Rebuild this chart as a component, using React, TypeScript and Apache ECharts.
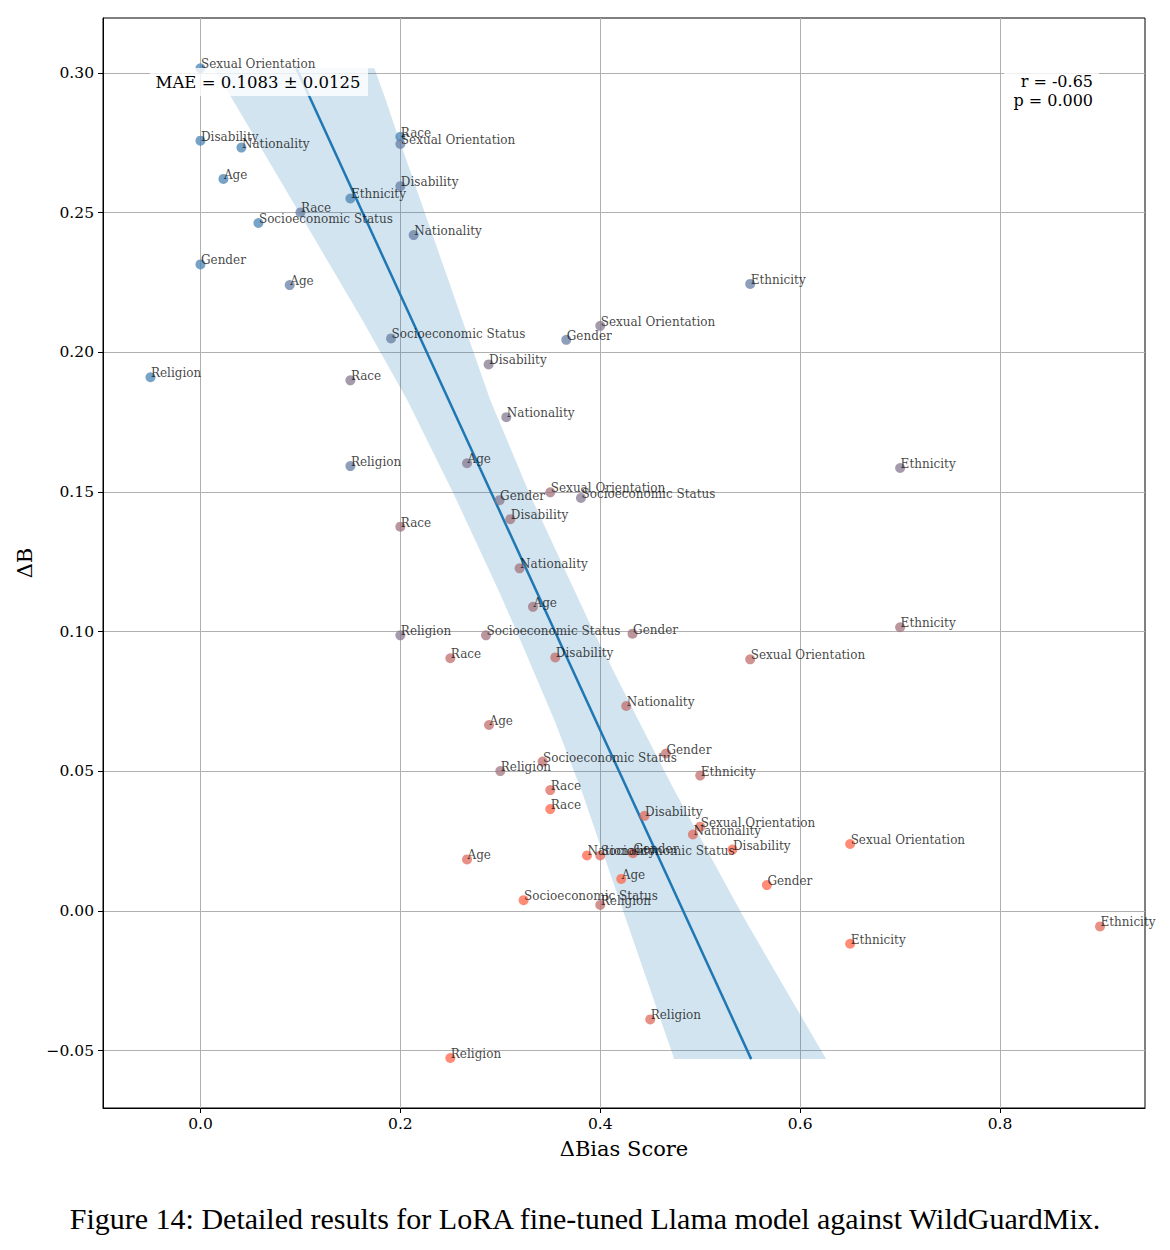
import React, { useEffect, useRef } from "react";
import * as echarts from "echarts";

// Bias categories (each row of X_VALUES / Y_VALUES belongs to one category)
const CATEGORIES = [
  "Age",
  "Disability",
  "Ethnicity",
  "Gender",
  "Nationality",
  "Race",
  "Religion",
  "Sexual Orientation",
  "Socioeconomic Status",
];

// ΔBias Score per category; column index = step (colour, blue -> red)
const X_VALUES = [
  [0.023, 0.0893, 0.2667, 0.3327, 0.2887, 0.2667, 0.421],
  [0.0, 0.2, 0.2883, 0.31, 0.355, 0.4443, 0.5323],
  [0.15, 0.55, 0.7, 0.7, 0.5, 0.9, 0.65],
  [0.0, 0.366, 0.2993, 0.4323, 0.4657, 0.4327, 0.5667],
  [0.041, 0.2133, 0.306, 0.3193, 0.426, 0.4927, 0.3867],
  [0.2, 0.1, 0.15, 0.2, 0.25, 0.35, 0.35],
  [-0.05, 0.15, 0.2, 0.3, 0.4, 0.45, 0.25],
  [0.0, 0.2, 0.4, 0.35, 0.55, 0.5, 0.65],
  [0.058, 0.1907, 0.3807, 0.2857, 0.3423, 0.4, 0.3233],
];

// ΔB per category
const Y_VALUES = [
  [0.2621, 0.2241, 0.1603, 0.1089, 0.0666, 0.0185, 0.0115],
  [0.2758, 0.2595, 0.1957, 0.1403, 0.0908, 0.0341, 0.022],
  [0.2551, 0.2245, 0.1586, 0.1016, 0.0485, -0.0055, -0.0117],
  [0.2315, 0.2045, 0.1471, 0.0993, 0.0564, 0.0207, 0.0093],
  [0.2733, 0.242, 0.1768, 0.1227, 0.0734, 0.0274, 0.0199],
  [0.2772, 0.2501, 0.19, 0.1376, 0.0905, 0.0433, 0.0365],
  [0.1911, 0.1593, 0.0987, 0.0501, 0.0022, -0.0388, -0.0526],
  [0.3017, 0.2746, 0.2095, 0.1499, 0.0901, 0.0302, 0.024],
  [0.2463, 0.205, 0.1479, 0.0987, 0.0535, 0.0199, 0.0039],
];

// Regression line and its confidence band
const FIT_Y = [0.3017, -0.053];
const FIT_X = [0.096, 0.551];
const BAND_Y = [
  0.3017, 0.2918, 0.276, 0.2116, 0.1829, 0.1496, 0.1149, 0.0995, 0.0684,
  0.0433, -0.0032, -0.053,
];
const BAND_LOW = [
  0.013, 0.03, 0.056, 0.162, 0.207, 0.253, 0.298, 0.317, 0.354, 0.381, 0.426,
  0.474,
];
const BAND_HIGH = [
  0.174, 0.184, 0.199, 0.262, 0.29, 0.329, 0.374, 0.394, 0.438, 0.474, 0.545,
  0.626,
];

const X_TICKS = [0, 0.2, 0.4, 0.6, 0.8];
const Y_TICKS = [-0.05, 0, 0.05, 0.1, 0.15, 0.2, 0.25, 0.3];

const MAE_TEXT = "MAE = 0.1083 ± 0.0125";
const R_TEXT = "r = -0.65";
const P_TEXT = "p = 0.000";
const X_NAME = "ΔBias Score";
const Y_NAME = "ΔB";
const CAPTION =
  "Figure 14: Detailed results for LoRA fine-tuned Llama model against WildGuardMix.";

const STEP_COLORS = [
  "rgba(70,130,180,0.92)",
  "rgba(101,125,162,0.92)",
  "rgba(132,120,144,0.92)",
  "rgba(162,114,125,0.92)",
  "rgba(193,109,107,0.92)",
  "rgba(224,104,89,0.92)",
  "rgba(255,99,71,0.92)",
];

const SERIF = "DejaVu Serif";

export default function App() {
  const ref = useRef<HTMLDivElement>(null);

  useEffect(() => {
    document.body.style.margin = "0";
    if (!ref.current) return;
    const chart = echarts.init(ref.current, undefined, { renderer: "svg" });

    const points: any[] = [];
    CATEGORIES.forEach((cat, ci) => {
      X_VALUES[ci].forEach((x, si) => {
        points.push([x, Y_VALUES[ci][si], si, cat]);
      });
    });

    const option: any = {
      animation: false,
      backgroundColor: "#fff",
      grid: {
        left: 103,
        right: 25,
        top: 18,
        bottom: 142,
        show: true,
        borderColor: "#000",
        borderWidth: 1,
        backgroundColor: "transparent",
      },
      xAxis: {
        type: "value",
        min: -0.0975,
        max: 0.945,
        name: X_NAME,
        nameLocation: "middle",
        nameGap: 30,
        nameTextStyle: { fontFamily: SERIF, fontSize: 21, color: "#000" },
        axisLine: {
          show: true,
          onZero: false,
          lineStyle: { color: "#000", width: 1 },
        },
        axisTick: {
          show: true,
          customValues: X_TICKS,
          length: 5,
          lineStyle: { color: "#000" },
        },
        axisLabel: {
          customValues: X_TICKS,
          formatter: (v: number) => v.toFixed(1),
          fontFamily: SERIF,
          fontSize: 15.5,
          color: "#000",
          margin: 8,
        },
        splitLine: { show: true, lineStyle: { color: "#b0b0b0", width: 1 } },
      },
      yAxis: {
        type: "value",
        min: -0.0705,
        max: 0.3197,
        name: Y_NAME,
        nameLocation: "middle",
        nameGap: 67,
        nameRotate: 90,
        nameTextStyle: { fontFamily: SERIF, fontSize: 21, color: "#000" },
        axisLine: {
          show: true,
          onZero: false,
          lineStyle: { color: "#000", width: 1 },
        },
        axisTick: {
          show: true,
          customValues: Y_TICKS,
          length: 5,
          lineStyle: { color: "#000" },
        },
        axisLabel: {
          customValues: Y_TICKS,
          formatter: (v: number) =>
            (v < -1e-9 ? "\u2212" : "") + Math.abs(v).toFixed(2),
          fontFamily: SERIF,
          fontSize: 15.5,
          color: "#000",
          margin: 9,
        },
        splitLine: { show: true, lineStyle: { color: "#b0b0b0", width: 1 } },
      },
      series: [
        {
          type: "custom",
          silent: true,
          z: 1,
          data: [[BAND_LOW[0], BAND_Y[0]]],
          encode: { x: 0, y: 1 },
          renderItem: (_params: any, api: any) => {
            const pts: number[][] = [];
            BAND_Y.forEach((y, i) => pts.push(api.coord([BAND_LOW[i], y])));
            for (let i = BAND_Y.length - 1; i >= 0; i--) {
              pts.push(api.coord([BAND_HIGH[i], BAND_Y[i]]));
            }
            return {
              type: "polygon",
              shape: { points: pts },
              style: { fill: "rgba(31,119,180,0.2)", stroke: "none" },
            };
          },
        },
        {
          type: "line",
          silent: true,
          z: 2,
          symbol: "none",
          data: FIT_X.map((x, i) => [x, FIT_Y[i]]),
          lineStyle: { color: "#1f77b4", width: 2.5 },
        },
        {
          type: "scatter",
          z: 3,
          symbolSize: 10,
          data: points,
          itemStyle: {
            color: (p: any) => STEP_COLORS[p.data[2]],
          },
          label: {
            show: true,
            formatter: (p: any) => p.data[3],
            position: [5.5, 7],
            align: "left",
            verticalAlign: "bottom",
            fontFamily: SERIF,
            fontSize: 12,
            color: "#111",
          },
          labelLayout: { hideOverlap: false },
        },
      ],
      graphic: [
        {
          type: "rect",
          z: 10,
          silent: true,
          shape: { x: 150, y: 68, width: 218, height: 28 },
          style: { fill: "rgba(255,255,255,0.8)" },
        },
        {
          type: "text",
          z: 11,
          silent: true,
          x: 258,
          y: 82,
          style: {
            text: MAE_TEXT,
            fontFamily: SERIF,
            fontSize: 16.5,
            fill: "#000",
            align: "center",
            verticalAlign: "middle",
          },
        },
        {
          type: "rect",
          z: 10,
          silent: true,
          shape: { x: 1004, y: 68, width: 95, height: 42 },
          style: { fill: "rgba(255,255,255,0.8)" },
        },
        {
          type: "text",
          z: 11,
          silent: true,
          x: 1093,
          y: 81,
          style: {
            text: R_TEXT,
            fontFamily: SERIF,
            fontSize: 16,
            fill: "#000",
            align: "right",
            verticalAlign: "middle",
          },
        },
        {
          type: "text",
          z: 11,
          silent: true,
          x: 1093,
          y: 100,
          style: {
            text: P_TEXT,
            fontFamily: SERIF,
            fontSize: 16,
            fill: "#000",
            align: "right",
            verticalAlign: "middle",
          },
        },
        {
          type: "text",
          z: 11,
          silent: true,
          x: 585,
          y: 1218,
          style: {
            text: CAPTION,
            fontFamily: "Liberation Serif",
            fontSize: 30,
            fill: "#000",
            align: "center",
            verticalAlign: "middle",
          },
        },
      ],
    };

    chart.setOption(option);
    return () => chart.dispose();
  }, []);

  return <div ref={ref} style={{ width: 1170, height: 1250 }} />;
}
